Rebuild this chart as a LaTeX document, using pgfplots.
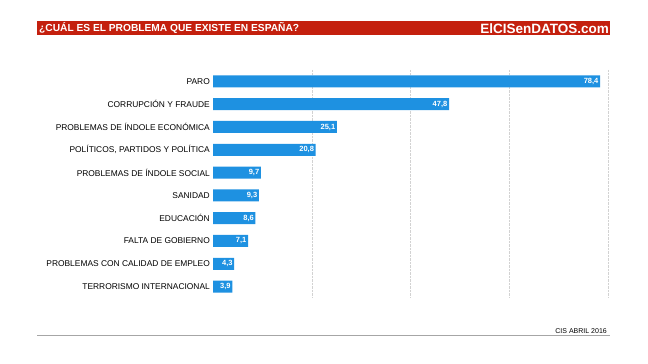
\documentclass[border=0pt]{standalone}
\usepackage{pgfplots}
\pgfplotsset{compat=1.18}
\usepackage{fontspec}
\setmainfont{Liberation Sans}
\definecolor{barblue}{RGB}{30,145,225}
\definecolor{hdrred}{RGB}{196,32,14}
\begin{document}
\begin{tikzpicture}[x=1pt,y=1pt]
\path[use as bounding box] (0,0) rectangle (648,364);
\fill[hdrred] (37,329) rectangle (610,343);
\node[anchor=west, text=white, inner sep=0pt, font=\bfseries\fontsize{10.2}{11}\selectfont] at (39,336) {¿CUÁL ES EL PROBLEMA QUE EXISTE EN ESPAÑA?};
\node[anchor=east, text=white, inner sep=0pt, font=\bfseries\fontsize{13.5}{14}\selectfont] at (609,335.5) {ElCISenDATOS.com};
\begin{axis}[
  at={(213pt,294pt)}, anchor=north west,
  scale only axis, width=395pt, height=228pt,
  xmin=0, xmax=80, ymin=-0.5, ymax=9.5, y dir=reverse,
  xbar, bar width=12pt,
  axis line style={draw=none},
  xtick={20,40,60,80}, xticklabels={},
  xmajorgrids, major grid style={gray!35, densely dotted},
  ytick={0,...,9},
  yticklabels={PARO, CORRUPCIÓN Y FRAUDE, PROBLEMAS DE ÍNDOLE ECONÓMICA, {POLÍTICOS, PARTIDOS Y POLÍTICA}, PROBLEMAS DE ÍNDOLE SOCIAL, SANIDAD, EDUCACIÓN, FALTA DE GOBIERNO, PROBLEMAS CON CALIDAD DE EMPLEO, TERRORISMO INTERNACIONAL},
  yticklabel style={font=\fontsize{8.4}{9}\selectfont, inner sep=0pt, xshift=-3pt},
  major tick length=0pt,
  nodes near coords,
  nodes near coords align={horizontal},
  every node near coord/.append style={anchor=east, text=white, font=\bfseries\fontsize{7.5}{8}\selectfont, inner sep=1.5pt,
    /pgf/number format/.cd, assume math mode=true, use comma, fixed, fixed zerofill, precision=1},
]
\addplot[draw=none, fill=barblue] coordinates {
(78.4,0) (47.8,1) (25.1,2) (20.8,3) (9.7,4) (9.3,5) (8.6,6) (7.1,7) (4.3,8) (3.9,9)};
\end{axis}
\node[anchor=south east, inner sep=0pt, font=\fontsize{7}{8}\selectfont] at (607,30) {CIS ABRIL 2016};
\draw[gray!70, line width=1pt] (37,28) -- (610,28);
\end{tikzpicture}
\end{document}
